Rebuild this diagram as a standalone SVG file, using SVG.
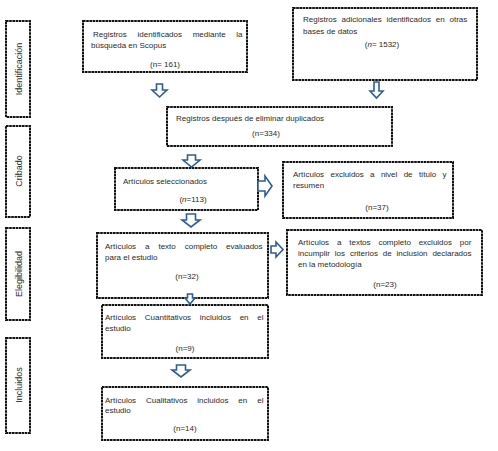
<svg xmlns="http://www.w3.org/2000/svg" width="498" height="451" viewBox="0 0 498 451">
<style>
.box{fill:#fff;stroke:#111;stroke-width:2;stroke-dasharray:2.6 0.6}
.t{font-family:"Liberation Sans",Arial,sans-serif;font-size:8px;fill:#2a2a2a}
.c{text-anchor:middle}
.s{font-family:"Liberation Sans",Arial,sans-serif;font-size:9px;fill:#2a2a2a;text-anchor:middle}
.arr{fill:#fff;stroke:#2E5C9A;stroke-width:1.6;stroke-linejoin:miter}
</style>
<rect width="498" height="451" fill="#fff"/>
<g id="phase-identificacion"><rect class="box" x="6" y="21" width="24" height="96"/><text class="s" transform="translate(21.5,69) rotate(-90)">Identificación</text></g>
<g id="phase-cribado"><rect class="box" x="6" y="126" width="24" height="91"/><text class="s" transform="translate(21.5,171) rotate(-90)">Cribado</text></g>
<g id="phase-elegibilidad"><rect class="box" x="6" y="228" width="24" height="92"/><text class="s" transform="translate(21.5,274) rotate(-90)">Elegibilidad</text></g>
<g id="phase-incluidos"><rect class="box" x="6" y="338" width="24" height="95"/><text class="s" transform="translate(21.5,385) rotate(-90)">Incluidos</text></g>

<g id="n-scopus"><rect class="box" x="83" y="21" width="164" height="51"/>
<text class="t" x="93" y="37" word-spacing="8.5">Registros identificados mediante la</text>
<text class="t" x="91" y="48">búsqueda en Scopus</text>
<text class="t c" x="165" y="67">(n= 161)</text></g>

<g id="n-otras"><rect class="box" x="293" y="8" width="184" height="72"/>
<text class="t" x="303" y="22" word-spacing="2.6">Registros adicionales identificados en otras</text>
<text class="t" x="303" y="34">bases de datos</text>
<text class="t c" x="382" y="47">(<tspan font-style="italic">n</tspan>= 1532)</text></g>

<g id="n-duplicados"><rect class="box" x="167" y="107" width="225" height="39"/>
<text class="t" x="176" y="121">Registros después de eliminar duplicados</text>
<text class="t c" x="266" y="136">(n=334)</text></g>

<g id="n-seleccionados"><rect class="box" x="115" y="168" width="143" height="42"/>
<text class="t" x="123" y="184">Artículos seleccionados</text>
<text class="t c" x="193" y="202">(<tspan font-style="italic">n</tspan>=113)</text></g>

<g id="n-excl-titulo"><rect class="box" x="283" y="162" width="170" height="56"/>
<text class="t" x="293" y="177" word-spacing="4.1">Artículos excluidos a nivel de título y</text>
<text class="t" x="293" y="188">resumen</text>
<text class="t c" x="377" y="210">(n=37)</text></g>

<g id="n-evaluados"><rect class="box" x="97" y="233" width="171" height="65"/>
<text class="t" x="105" y="249" word-spacing="6.7">Artículos a texto completo evaluados</text>
<text class="t" x="105" y="260">para el estudio</text>
<text class="t c" x="187" y="279">(n=32)</text></g>

<g id="n-excl-criterios"><rect class="box" x="287" y="230" width="195" height="65"/>
<text class="t" x="298" y="245" word-spacing="5.6">Artículos a textos completo excluidos por</text>
<text class="t" x="298" y="256" word-spacing="2.6">incumplir los criterios de inclusión declarados</text>
<text class="t" x="298" y="267">en la metodología</text>
<text class="t c" x="385" y="287">(n=23)</text></g>

<g id="n-cuantitativos"><rect class="box" x="102" y="305" width="166" height="53"/>
<text class="t" x="105" y="320" word-spacing="6.5">Artículos Cuantitativos incluidos en el</text>
<text class="t" x="105" y="331">estudio</text>
<text class="t c" x="185" y="351">(n=9)</text></g>

<g id="n-cualitativos"><rect class="box" x="102" y="387" width="166" height="53"/>
<text class="t" x="105" y="403" word-spacing="7.7">Artículos Cualitativos incluidos en el</text>
<text class="t" x="105" y="413">estudio</text>
<text class="t c" x="185" y="431">(n=14)</text></g>

<g id="connectors">
<path class="arr" d="M156.5,84 H162.5 V90 H167 L159.5,97 L152,90 H156.5 Z"/>
<path class="arr" d="M374,82 H379 V91 H383 L376.5,98 L370,91 H374 Z"/>
<path class="arr" d="M187.5,155 H195.5 V160 H200 L191.5,167 L183,160 H187.5 Z"/>
<path class="arr" d="M258,181 H265 V176 L272,186 L265,196 V191 H258 Z"/>
<path class="arr" d="M186.5,214 H195.5 V220 H200 L191,227 L182,220 H186.5 Z"/>
<path class="arr" d="M271,246 H276 V242 L283,249.5 L276,257 V253 H271 Z"/>
<path class="arr" d="M187.5,294 H192.5 V298 H195 L190,304 L185,298 H187.5 Z"/>
<path class="arr" d="M176.5,365 H185.5 V370 H190 L181,377 L172,370 H176.5 Z"/>
</g>
</svg>
